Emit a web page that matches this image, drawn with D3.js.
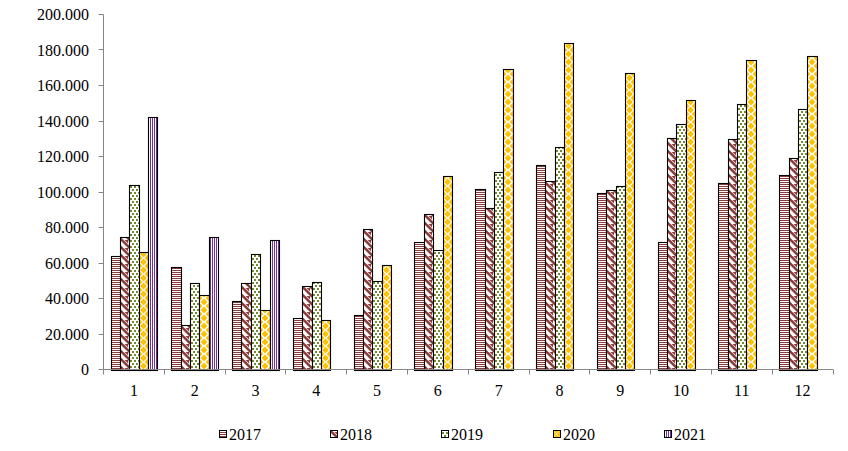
<!DOCTYPE html>
<html><head><meta charset="utf-8">
<script src="https://cdn.jsdelivr.net/npm/d3@7"></script>
<style>
html,body{margin:0;padding:0;background:#fff;}
svg{display:block;font-family:"Liberation Serif","Times New Roman",serif;}
</style></head>
<body>
<svg id="chart" width="848" height="451"></svg>
<script>
const months = ["1","2","3","4","5","6","7","8","9","10","11","12"];
const seriesNames = ["2017","2018","2019","2020","2021"];
const v2017 = [63700,57800,38700,29100,30800,71900,101800,115300,99500,72100,104800,109300];
const v2018 = [74400,25200,48800,47100,79300,87700,91100,106300,101200,130700,130100,119400];
const v2019 = [104000,48800,65200,49400,50000,67400,111400,125500,103500,138400,149700,146900];
const v2020 = [66300,42100,33600,28000,59000,109100,169400,184100,166800,151900,174500,176800];
const v2021 = [142500,74800,73100,null,null,null,null,null,null,null,null,null];
const yTicks = [0,20000,40000,60000,80000,100000,120000,140000,160000,180000,200000];
const seriesValues = [v2017,v2018,v2019,v2020,v2021];

const svg = d3.select("#chart");
const X0 = 103.5, X1 = 833, Y0 = 369.5, YT = 14.5;
const axisColor = "#868686";
const red = "#8B3A3A", green = "#6F8A30", gold = "#FFC000", purple = "#7030A0";

const x = d3.scaleBand().domain(months).range([X0, X1]).paddingInner(0).paddingOuter(0);
const xs = d3.scaleBand().domain(seriesNames).range([0, x.bandwidth()]).paddingInner(0).paddingOuter(0.75);
const y = d3.scaleLinear().domain([0, 200000]).range([Y0, YT]);
const loc = d3.formatLocale({decimal: ",", thousands: ".", grouping: [3], currency: ["", ""]});
const fmt = loc.format(",d");

const defs = svg.append("defs");
let pid = 0;
function makePattern(si, ix, w) {
  const id = "pat" + (pid++);
  const p = defs.append("pattern").attr("id", id).attr("patternUnits", "userSpaceOnUse");
  if (si === 0) {
    p.attr("x", 0).attr("y", 0).attr("width", 4).attr("height", 2);
    p.append("rect").attr("width", 4).attr("height", 2).attr("fill", "#fff");
    p.append("rect").attr("width", 4).attr("height", 1).attr("fill", red);
  } else if (si === 1) {
    p.attr("x", ix).attr("y", 0).attr("width", 8).attr("height", 8);
    p.append("rect").attr("width", 8).attr("height", 8).attr("fill", "#fff");
    p.append("path").attr("d", "M0,0 L3.5,0 L8,4.5 L8,8 Z M0,4.5 L3.5,8 L0,8 Z M4.5,0 L8,0 L8,3.5 Z").attr("fill", red);
  } else if (si === 2) {
    p.attr("x", ix).attr("y", 0).attr("width", 4).attr("height", 6);
    p.append("rect").attr("width", 4).attr("height", 6).attr("fill", "#fff");
    p.append("rect").attr("x", 1).attr("y", 0).attr("width", 2).attr("height", 2).attr("fill", green);
    p.append("rect").attr("x", 3).attr("y", 3).attr("width", 2).attr("height", 2).attr("fill", green);
    p.append("rect").attr("x", -1).attr("y", 3).attr("width", 2).attr("height", 2).attr("fill", green);
  } else if (si === 3) {
    const pw = w, ph = 8, r = 3.4;
    p.attr("x", ix).attr("y", Math.round(Y0)).attr("width", pw).attr("height", ph);
    p.append("rect").attr("width", pw).attr("height", ph).attr("fill", "#fff");
    const dm = (cx, cy) => `M${cx},${cy - r} L${cx + r},${cy} L${cx},${cy + r} L${cx - r},${cy} Z`;
    p.append("path").attr("d", dm(pw / 2, ph / 2) + dm(0, 0) + dm(pw, 0) + dm(0, ph) + dm(pw, ph)).attr("fill", gold);
  } else {
    // purple stripes on even pixel columns of the page
    p.attr("x", 0).attr("y", 0).attr("width", 2).attr("height", 4);
    p.append("rect").attr("width", 2).attr("height", 4).attr("fill", "#fff");
    p.append("rect").attr("x", 0).attr("width", 1).attr("height", 4).attr("fill", purple);
  }
  return id;
}

// bars (snapped to the pixel grid for crisp outlines)
const bars = svg.append("g");
seriesValues.forEach((vals, si) => {
  vals.forEach((v, i) => {
    if (v == null) return;
    const left = Math.round(x(months[i]) + xs(seriesNames[si]));
    const right = Math.round(x(months[i]) + xs(seriesNames[si]) + xs.bandwidth());
    const top = Math.round(y(v));
    const id = makePattern(si, left, right - left);
    bars.append("rect")
      .attr("x", left + 0.5).attr("y", top + 0.5)
      .attr("width", right - left).attr("height", Math.round(Y0) - top)
      .attr("fill", `url(#${id})`).attr("stroke", "#000").attr("stroke-width", 1.1);
  });
});

// y axis
const ya = svg.append("g").attr("stroke", axisColor).attr("stroke-width", 1);
ya.append("line").attr("x1", X0).attr("x2", X0).attr("y1", YT).attr("y2", Y0);
yTicks.forEach(t => {
  const ty = Math.round(y(t) - 0.5) + 0.5;
  ya.append("line").attr("x1", X0 - 5).attr("x2", X0).attr("y1", ty).attr("y2", ty);
});
svg.append("g").selectAll("text").data(yTicks).join("text")
  .attr("x", 89).attr("y", d => y(d)).attr("dy", "0.35em")
  .attr("text-anchor", "end").attr("font-size", 16).attr("fill", "#000")
  .text(d => fmt(d));

// x axis
const xa = svg.append("g").attr("stroke", axisColor).attr("stroke-width", 1);
xa.append("line").attr("x1", X0).attr("x2", X1).attr("y1", Y0).attr("y2", Y0);
months.concat(["end"]).forEach((m, i) => {
  const px = Math.round((i < months.length ? x(m) : X1) - 0.5) + 0.5;
  xa.append("line").attr("x1", px).attr("x2", px).attr("y1", Y0).attr("y2", Y0 + 5);
});
svg.append("g").selectAll("text").data(months).join("text")
  .attr("x", d => x(d) + x.bandwidth() / 2).attr("y", 396)
  .attr("text-anchor", "middle").attr("font-size", 16).attr("fill", "#000")
  .text(d => d);

// legend
const legX = [219, 330, 441, 553, 664];
const leg = svg.append("g");
seriesNames.forEach((s, si) => {
  const id = makePattern(si, legX[si], 7);
  leg.append("rect").attr("x", legX[si] + 0.5).attr("y", 430.5).attr("width", 7).attr("height", 7)
    .attr("fill", `url(#${id})`).attr("stroke", "#000").attr("stroke-width", 1);
  leg.append("text").attr("x", legX[si] + 10).attr("y", 440)
    .attr("font-size", 16).attr("fill", "#000").text(s);
});
</script>
</body></html>
